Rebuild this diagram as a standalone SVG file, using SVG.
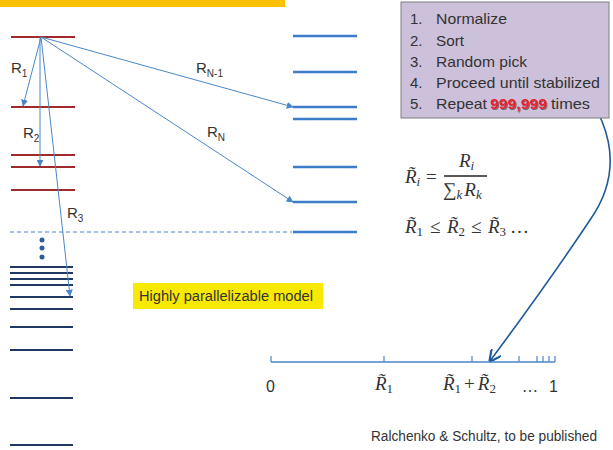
<svg xmlns="http://www.w3.org/2000/svg" width="613" height="450" viewBox="0 0 613 450">
<style>
.red{stroke:#9E2A2B;stroke-width:2}
.navy{stroke:#1F3864;stroke-width:2}
.blue{stroke:#3D7CC9;stroke-width:2.5}
.arr{stroke:#4A86C8;stroke-width:1;fill:none;marker-end:url(#ah)}
.lbl{font-family:"Liberation Sans",Arial,sans-serif;font-size:15px;fill:#333}
.sub{font-size:10px}
.m{font-family:"Liberation Serif","Times New Roman",serif;font-style:italic;font-size:19px;fill:#333}
.mr{font-family:"Liberation Serif","Times New Roman",serif;font-size:19px;fill:#333}
.ms{font-size:13px}
.up{font-style:normal}
.list{font-family:"Liberation Sans",Arial,sans-serif;font-size:15px;fill:#333}
</style>
<defs>
<marker id="ah" viewBox="0 0 10 10" refX="9" refY="5" markerWidth="7" markerHeight="7" markerUnits="userSpaceOnUse" orient="auto">
<path d="M0,0 L10,5 L0,10 z" fill="#4A86C8"/>
</marker>
<marker id="ah2" viewBox="0 0 10 10" refX="9" refY="5" markerWidth="12" markerHeight="12" markerUnits="userSpaceOnUse" orient="auto">
<path d="M0,0 L10,5 L0,10" fill="none" stroke="#1F5A9A" stroke-width="1.8"/>
</marker>
<filter id="sh" x="-10%" y="-20%" width="130%" height="150%">
<feDropShadow dx="1" dy="1" stdDeviation="0.6" flood-color="#000" flood-opacity="0.45"/>
</filter>
</defs>
<rect x="0" y="0" width="285" height="7" fill="#FFC000"/>

<g id="left-levels">
<line class="red" x1="11" y1="37" x2="75" y2="37"/>
<line class="red" x1="11" y1="107" x2="75" y2="107"/>
<line class="red" x1="11" y1="155" x2="75" y2="155"/>
<line class="red" x1="11" y1="167" x2="75" y2="167"/>
<line class="red" x1="11" y1="190" x2="75" y2="190"/>
<line x1="10" y1="232" x2="292" y2="232" stroke="#4A86C8" stroke-width="1" stroke-dasharray="4,3"/>
<circle cx="42" cy="240" r="2.5" fill="#2E5C9A"/>
<circle cx="42" cy="248" r="2.5" fill="#2E5C9A"/>
<circle cx="42" cy="257" r="2.5" fill="#2E5C9A"/>
<line class="navy" x1="10" y1="267" x2="73" y2="267"/>
<line class="navy" x1="10" y1="273" x2="73" y2="273"/>
<line class="navy" x1="10" y1="279" x2="73" y2="279"/>
<line class="navy" x1="10" y1="285" x2="73" y2="285"/>
<line class="navy" x1="10" y1="297" x2="73" y2="297"/>
<line class="navy" x1="10" y1="309" x2="73" y2="309"/>
<line class="navy" x1="10" y1="327" x2="73" y2="327"/>
<line class="navy" x1="10" y1="350" x2="73" y2="350"/>
<line class="navy" x1="10" y1="398" x2="73" y2="398"/>
<line class="navy" x1="10" y1="445" x2="73" y2="445"/>
</g>

<g id="right-levels">
<line class="blue" x1="293" y1="36" x2="357" y2="36"/>
<line class="blue" x1="293" y1="72" x2="357" y2="72"/>
<line class="blue" x1="293" y1="107" x2="357" y2="107"/>
<line class="blue" x1="293" y1="119" x2="357" y2="119"/>
<line class="blue" x1="293" y1="167" x2="357" y2="167"/>
<line class="blue" x1="293" y1="202" x2="357" y2="202"/>
<line class="blue" x1="293" y1="232" x2="357" y2="232"/>
</g>

<g id="connectors">
<line class="arr" x1="41" y1="37" x2="23" y2="106"/>
<line class="arr" x1="40" y1="37" x2="40" y2="166"/>
<line class="arr" x1="41" y1="37" x2="70" y2="296"/>
<line class="arr" x1="41" y1="37" x2="293" y2="107"/>
<line class="arr" x1="41" y1="37" x2="293" y2="202"/>
<path d="M556,58 C615,115 625,170 590,220 C562,262 522,318 490,361" fill="none" stroke="#1F5A9A" stroke-width="1.6" marker-end="url(#ah2)"/>
</g>

<g id="labels">
<text class="lbl" x="11" y="73">R<tspan class="sub" dy="4">1</tspan></text>
<text class="lbl" x="23" y="138">R<tspan class="sub" dy="4">2</tspan></text>
<text class="lbl" x="67" y="218">R<tspan class="sub" dy="4">3</tspan></text>
<text class="lbl" x="196" y="73">R<tspan class="sub" dy="4">N-1</tspan></text>
<text class="lbl" x="207" y="137">R<tspan class="sub" dy="4">N</tspan></text>
</g>

<g id="steps-box">
<rect x="401" y="2" width="208" height="116" fill="#CCC0DA" stroke="#7F7F7F" stroke-width="1"/>
<text class="list" x="410" y="24">1.</text><text class="list" x="436" y="24" textLength="71" lengthAdjust="spacingAndGlyphs">Normalize</text>
<text class="list" x="410" y="45.5">2.</text><text class="list" x="436" y="45.5" textLength="28" lengthAdjust="spacingAndGlyphs">Sort</text>
<text class="list" x="410" y="66.5">3.</text><text class="list" x="436" y="66.5" textLength="91" lengthAdjust="spacingAndGlyphs">Random pick</text>
<text class="list" x="410" y="87.5">4.</text><text class="list" x="436" y="87.5" textLength="164" lengthAdjust="spacingAndGlyphs">Proceed until stabilized</text>
<text class="list" x="410" y="109">5.</text><text class="list" x="436" y="109" textLength="51" lengthAdjust="spacingAndGlyphs">Repeat</text>
<text class="list" x="490" y="109" font-weight="bold" filter="url(#sh)" textLength="57" lengthAdjust="spacingAndGlyphs" style="fill:#E8202A">999,999</text>
<text class="list" x="551" y="109" textLength="39" lengthAdjust="spacingAndGlyphs">times</text>
</g>

<g id="formulas">
<text class="m" x="405" y="183">R̃<tspan class="ms" dy="3">i</tspan></text>
<text class="mr" x="426" y="183">=</text>
<text class="m" x="459" y="167">R<tspan class="ms" dy="3">i</tspan></text>
<line x1="444" y1="176" x2="487" y2="176" stroke="#222" stroke-width="1.4"/>
<text class="mr" x="443" y="196">∑<tspan class="m ms" dy="3">k</tspan><tspan class="m" dx="2" dy="-3">R</tspan><tspan class="m ms" dy="3">k</tspan></text>

<text class="m" x="405" y="233">R̃<tspan class="ms up" dy="3">1</tspan></text>
<text class="mr" x="430" y="233">≤</text>
<text class="m" x="447" y="233">R̃<tspan class="ms up" dy="3">2</tspan></text>
<text class="mr" x="471" y="233">≤</text>
<text class="m" x="488" y="233">R̃<tspan class="ms up" dy="3">3</tspan></text>
<text class="mr" x="510" y="233">…</text>
</g>

<g id="number-line">
<line x1="271" y1="362" x2="555" y2="362" stroke="#4A86C8" stroke-width="1.3"/>
<path d="M271,356V362M384,356V362M472,356V362M519,356V362M537,356V362M543,356V362M549,356V362M555,356V362" stroke="#4A86C8" stroke-width="1.2" fill="none"/>
<text class="lbl" x="266" y="392" style="font-size:16px">0</text>
<text class="m" x="375" y="390">R̃<tspan class="ms up" dy="3">1</tspan></text>
<text class="m" x="443" y="390">R̃<tspan class="ms up" dy="3">1</tspan><tspan class="up" dx="3" dy="-3">+</tspan><tspan dx="3">R̃</tspan><tspan class="ms up" dy="3">2</tspan></text>
<text class="mr" x="522" y="392" style="font-size:16px">…</text>
<text class="lbl" x="549" y="392" style="font-size:16px">1</text>
</g>

<g id="note">
<rect x="133" y="283" width="190" height="26" fill="#F7EA00"/>
<text class="lbl" x="139" y="301" style="font-size:14px" textLength="174" lengthAdjust="spacingAndGlyphs">Highly parallelizable model</text>
</g>

<text class="lbl" x="371" y="441" style="font-size:14px" textLength="226" lengthAdjust="spacingAndGlyphs">Ralchenko &amp; Schultz, to be published</text>
</svg>
